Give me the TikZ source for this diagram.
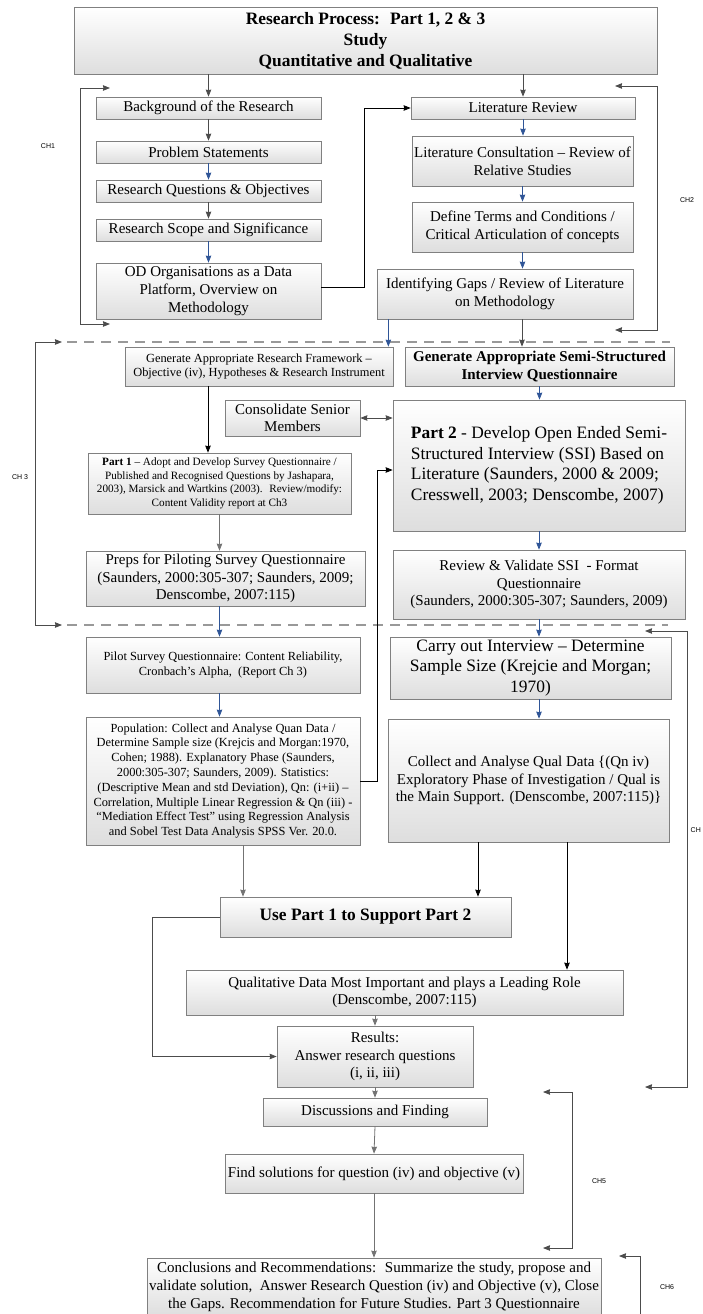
\documentclass[tikz,border=0pt]{standalone}
\usepackage{fontspec}
\setmainfont{Liberation Serif}
\newfontfamily\chapfont{Liberation Sans}
\usetikzlibrary{arrows.meta,shadows}
\definecolor{arrowblue}{HTML}{2F5597}

\begin{document}
\begin{tikzpicture}[x=1pt,y=-1pt]
\tikzstyle{stepbox} = [draw=black!50, line width=0.7pt, top color=white, bottom color=black!13, drop shadow={shadow xshift=1.2pt, shadow yshift=-1.2pt, opacity=0.35}, align=center, inner sep=1pt]
\tikzstyle{bigtext} = [font=\fontsize{17.4}{20.6}\selectfont]
\tikzstyle{bigbold} = [font=\bfseries\fontsize{17.4}{20.6}\selectfont]
\tikzstyle{midtext} = [font=\fontsize{15}{17.7}\selectfont]
\tikzstyle{midbold} = [font=\bfseries\fontsize{15}{17.7}\selectfont]
\tikzstyle{smalltext} = [font=\fontsize{12.4}{14.8}\selectfont]
\tikzstyle{tinytext} = [font=\fontsize{11.2}{13.5}\selectfont]
\tikzstyle{chaplabel} = [font=\chapfont\fontsize{7}{8}\selectfont]
\tikzstyle{darr} = [draw=black!70, line width=0.8pt, -{Stealth[length=7pt,width=5.5pt,inset=0.5pt]}]
\tikzstyle{barr} = [darr, draw=arrowblue]
\tikzstyle{karr} = [darr, draw=black]
\tikzstyle{garr} = [darr, draw=black!55]
\tikzstyle{dblarr} = [darr, {Stealth[length=7pt,width=5.5pt,inset=0.5pt]}-{Stealth[length=7pt,width=5.5pt,inset=0.5pt]}]
\tikzstyle{chline} = [dblarr]
\tikzstyle{chlineone} = [darr, {Stealth[length=7pt,width=5.5pt,inset=0.5pt]}-]
\tikzstyle{sepline} = [draw=black!40, line width=1.5pt, dash pattern=on 10pt off 7pt]

\useasboundingbox (0,0) rectangle (702,1314);

% title
\node[stepbox, minimum width=583, minimum height=67, font=\bfseries\fontsize{17.4}{21}\selectfont] (title) at (365.5,40.5) {Research Process:~ Part 1, 2 \& 3\\Study\\Quantitative and Qualitative};

% chapter 1 and 2
\node[stepbox, midtext, minimum width=225, minimum height=22] (bg) at (208.5,108) {Background of the Research};
\node[stepbox, midtext, minimum width=225, minimum height=22] (prob) at (208.5,152) {Problem Statements};
\node[stepbox, midtext, minimum width=225, minimum height=22] (rq) at (208.5,191) {Research Questions \& Objectives};
\node[stepbox, midtext, minimum width=225, minimum height=22] (scope) at (208.5,230) {Research Scope and Significance};
\node[stepbox, midtext, minimum width=225, minimum height=56] (od) at (208.5,291) {OD Organisations as a Data\\Platform, Overview on\\Methodology};
\node[stepbox, midtext, minimum width=224, minimum height=22] (litrev) at (523,108) {Literature Review};
\node[stepbox, midtext, minimum width=221, minimum height=50] (consult) at (522.5,161) {Literature Consultation – Review of\\Relative Studies};
\node[stepbox, midtext, minimum width=221, minimum height=50] (define) at (522.5,227) {Define Terms and Conditions /\\Critical Articulation of concepts};
\node[stepbox, midtext, minimum width=256, minimum height=50] (gaps) at (505,294) {Identifying Gaps / Review of Literature\\on Methodology};

% chapter 3
\node[stepbox, smalltext, minimum width=268, minimum height=39] (frame) at (259,366.5) {Generate Appropriate Research Framework –\\Objective (iv), Hypotheses \& Research Instrument};
\node[stepbox, midbold, minimum width=269, minimum height=39] (semi) at (539.5,366.5) {Generate Appropriate Semi-Structured\\Interview Questionnaire};
\node[stepbox, midtext, minimum width=135, minimum height=36] (consol) at (292.5,418) {Consolidate Senior\\Members};
\node[stepbox, bigtext, align=left, minimum width=292, minimum height=131] (part2) at (539,465.5) {{\bf Part 2} - Develop Open Ended Semi-\\Structured Interview (SSI) Based on\\Literature (Saunders, 2000 \& 2009;\\Cresswell, 2003; Denscombe, 2007)};
\node[stepbox, tinytext, minimum width=263, minimum height=61] (part1) at (219.5,483.5) {{\bf Part 1} – Adopt and Develop Survey Questionnaire /\\Published and Recognised Questions by Jashapara,\\2003), Marsick and Wartkins (2003).~ Review/modify:\\Content Validity report at Ch3};
\node[stepbox, midtext, minimum width=279, minimum height=55] (preps) at (225.5,578.5) {Preps for Piloting Survey Questionnaire\\(Saunders, 2000:305-307; Saunders, 2009;\\Denscombe, 2007:115)};
\node[stepbox, midtext, minimum width=292, minimum height=69] (review) at (539,584.5) {Review \& Validate SSI~ - Format\\Questionnaire\\(Saunders, 2000:305-307; Saunders, 2009)};

% chapter 4
\node[stepbox, smalltext, minimum width=274, minimum height=56] (pilot) at (223,665) {Pilot Survey Questionnaire: Content Reliability,\\Cronbach’s Alpha,~ (Report Ch 3)};
\node[stepbox, smalltext, minimum width=274, minimum height=128] (pop) at (223,781) {Population: Collect and Analyse Quan Data /\\Determine Sample size (Krejcis and Morgan:1970,\\Cohen; 1988). Explanatory Phase (Saunders,\\2000:305-307; Saunders, 2009). Statistics:\\(Descriptive Mean and std Deviation), Qn: (i+ii) –\\Correlation, Multiple Linear Regression \& Qn (iii) -\\“Mediation Effect Test” using Regression Analysis\\and Sobel Test Data Analysis SPSS Ver. 20.0.};
\node[stepbox, bigtext, minimum width=281, minimum height=62] (carry) at (530.5,668) {Carry out Interview – Determine\\Sample Size (Krejcie and Morgan;\\1970)};
\node[stepbox, midtext, minimum width=281, minimum height=123] (collect) at (528.5,780.5) {Collect and Analyse Qual Data \{(Qn iv)\\Exploratory Phase of Investigation / Qual is\\the Main Support. (Denscombe, 2007:115)\}};
\node[stepbox, bigbold, minimum width=291, minimum height=40] (use) at (365.5,917) {Use Part 1 to Support Part 2};
\node[stepbox, midtext, minimum width=437, minimum height=45] (qual) at (404.5,992.5) {Qualitative Data Most Important and plays a Leading Role\\(Denscombe, 2007:115)};
\node[stepbox, midtext, minimum width=196, minimum height=61] (results) at (375,1056.5) {Results:\\Answer research questions\\(i, ii, iii)};

% chapter 5 and 6
\node[stepbox, midtext, minimum width=224, minimum height=28] (disc) at (375,1112) {Discussions and Finding};
\node[stepbox, midtext, minimum width=298, minimum height=39] (find) at (374,1173.5) {Find solutions for question (iv) and objective (v)};
\node[stepbox, midtext, minimum width=454, minimum height=58] (concl) at (374,1287) {Conclusions and Recommendations:~ Summarize the study, propose and\\validate solution,~ Answer Research Question (iv) and Objective (v), Close\\the Gaps. Recommendation for Future Studies. Part 3 Questionnaire};

% chapter labels
\node[chaplabel] (ch1) at (48,146) {CH1};
\node[chaplabel] (ch2) at (687,200) {CH2};
\node[chaplabel] (ch3) at (20,477) {CH 3};
\node[chaplabel, anchor=east, inner xsep=1pt] (ch4) at (702,830) {CH};
\node[chaplabel] (ch5) at (599,1181) {CH5};
\node[chaplabel] (ch6) at (667,1287) {CH6};

% bracket ends and separators
\coordinate (ch1top) at (110,88);
\coordinate (ch1bot) at (110,324);
\coordinate (ch2top) at (615,86);
\coordinate (ch2bot) at (615,330);
\coordinate (ch3top) at (62,342);
\coordinate (ch3bot) at (62,625);
\coordinate (ch4top) at (645,631);
\coordinate (ch4bot) at (645,1087);
\coordinate (ch5top) at (543,1092);
\coordinate (ch5bot) at (543,1248);
\coordinate (ch6top) at (619,1256);
\coordinate (sepAw) at (67,342);
\coordinate (sepAe) at (670,342);
\coordinate (sepBw) at (67,625);
\coordinate (sepBe) at (668,625);

\draw[sepline] (sepAw) -- (sepAe);
\draw[sepline] (sepBw) -- (sepBe);
\draw[chline] (ch1top) -- ++(-30,0) |- (ch1bot);
\draw[chline] (ch2top) -- ++(42,0) |- (ch2bot);
\draw[chline] (ch3top) -- ++(-27,0) |- (ch3bot);
\draw[chline] (ch4top) -- ++(42,0) |- (ch4bot);
\draw[chline] (ch5top) -- ++(29,0) |- (ch5bot);
\draw[chlineone] (ch6top) -- ++(21,0) -- ++(0,80);

% connectors
\draw[darr] (title.south -| bg.north) -- (bg.north);
\draw[darr] (title.south -| litrev.north) -- (litrev.north);
\draw[darr] (bg.south) -- (prob.north);
\draw[barr] (prob.south) -- (rq.north);
\draw[darr] (rq.south) -- (scope.north);
\draw[barr] (scope.south) -- (od.north);
\draw[karr] ([yshift=4]od.east) -- ++(43,0) |- (litrev.west);
\draw[barr] (litrev.south) -- (litrev.south |- consult.north);
\draw[barr] (consult.south) -- (define.north);
\draw[barr] (define.south) -- (define.south |- gaps.north);
\draw[barr] ([xshift=-5]frame.north east |- gaps.south) -- ([xshift=-5]frame.north east);
\draw[darr] ([xshift=17]gaps.south) -- ([xshift=17]gaps.south |- semi.north);
\draw[karr] ([xshift=-51]frame.south) -- ([xshift=-51]frame.south |- part1.north);
\draw[barr] (semi.south) -- (semi.south |- part2.north);
\draw[dblarr] (consol.east) -- (consol.east -| part2.west);
\draw[garr] (part1.south) -- (part1.south |- preps.north);
\draw[barr] (part1.south |- preps.south) -- (part1.south |- pilot.north);
\draw[barr] (part1.south |- pilot.south) -- (part1.south |- pop.north);
\draw[barr] (part2.south) -- (review.north);
\draw[barr] (review.south) -- (review.south |- carry.north);
\draw[barr] (review.south |- carry.south) -- (review.south |- collect.north);
\draw[karr] (pop.east) -- ++(17,0) |- ([yshift=-4.5]part2.west);
\draw[garr] ([xshift=20]pop.south) -- ([xshift=20]pop.south |- use.north);
\draw[karr] ([xshift=-50.5]collect.south) -- ([xshift=-50.5]collect.south |- use.north);
\draw[karr] ([xshift=38.5]collect.south) -- ([xshift=38.5]collect.south |- qual.north);
\draw[darr] (use.west) -- ++(-67,0) |- (results.west);
\draw[garr] (qual.south -| results.north) -- (results.north);
\draw[garr] (results.south) -- (disc.north);
\draw[garr] (disc.south) -- (find.north);
\draw[garr] (find.south) -- (find.south |- concl.north);
\end{tikzpicture}
\end{document}
